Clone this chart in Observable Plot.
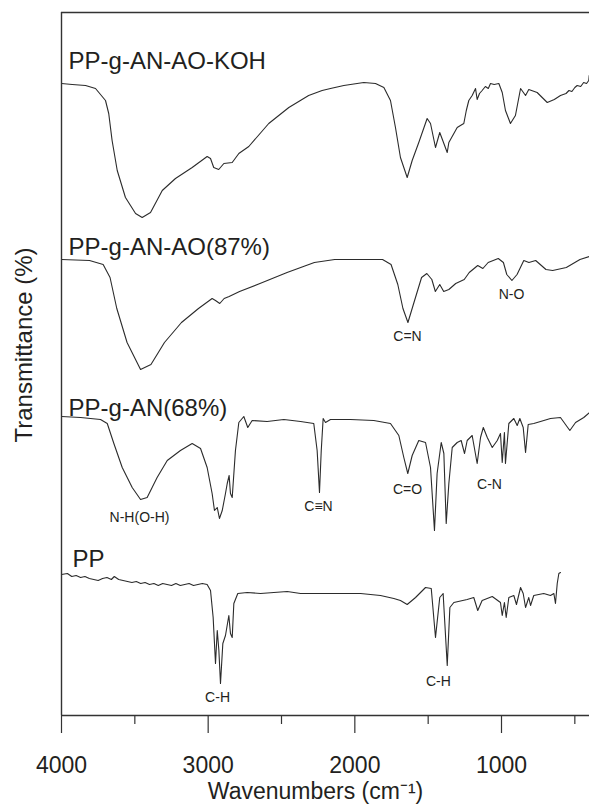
<!DOCTYPE html>
<html><head><meta charset="utf-8">
<script src="https://cdn.jsdelivr.net/npm/d3@7"></script>
<script src="https://cdn.jsdelivr.net/npm/@observablehq/plot@0.6"></script>
<style>body{margin:0;background:#fff}</style>
</head><body><div id="chart"></div>
<script>
// Wavenumber (cm-1) and transmittance (arbitrary, offset units) for each spectrum
const kohWn = [4000,3927,3836,3768,3700,3678,3655,3620,3564,3495,3450,3393,3313,3223,3109,3007,2984,2962,2928,2893,2836,2791,2723,2587,2450,2315,2223,2166,2075,1939,1859,1802,1757,1723,1689,1643,1609,1564,1507,1484,1450,1421,1370,1359,1302,1280,1257,1240,1223,1200,1177,1166,1150,1132,1110,1090,1075,1050,1018,995,973,939,905,870,836,814,757,688,640,598,560,540,520,500,484,460,440,420,405,402];
const kohT  = [632,631,630,627,615,602,575,545,518,502,498,503,525,537,548,559,557,548,546,552,553,562,569,592,608,620,625,627,630,633,632,628,615,588,558,538,555,573,597,592,568,583,563,573,588,590,592,605,615,620,627,616,622,625,629,627,632,631,632,623,605,592,600,627,620,626,623,613,616,620,622,625,624,628,630,629,633,632,635,640];

const aoWn = [4000,3809,3716,3669,3623,3553,3461,3390,3298,3182,3066,2973,2950,2921,2891,2857,2786,2647,2462,2276,2137,1951,1811,1753,1707,1672,1638,1603,1545,1509,1475,1451,1421,1394,1359,1312,1254,1220,1162,1127,1091,1022,987,964,929,894,848,813,767,697,651,558,465,400];
const aoT  = [456,455,451,438,407,373,346,351,373,393,407,417,415,412,417,419,424,432,443,453,456,456,456,451,431,407,393,410,438,442,436,424,431,424,426,432,436,443,450,447,453,457,453,441,435,441,455,453,455,446,445,448,456,459];

const anWn = [4000,3870,3734,3688,3643,3586,3518,3461,3416,3348,3279,3189,3109,3052,3007,2973,2957,2938,2923,2904,2882,2870,2857,2848,2836,2814,2791,2757,2730,2700,2598,2484,2370,2280,2257,2241,2229,2216,2200,2166,2030,1871,1757,1700,1666,1639,1609,1564,1518,1484,1457,1439,1411,1393,1377,1359,1336,1302,1275,1252,1234,1200,1166,1143,1124,1097,1063,1029,1007,995,980,973,950,916,893,875,852,836,818,780,734,666,598,534,495,439,400];
const anT  = [299,298,296,292,272,248,228,216,218,238,255,265,272,267,248,222,205,208,197,205,222,232,240,222,218,265,293,299,288,295,294,296,294,292,265,223,265,297,293,296,296,295,292,280,258,242,260,275,273,248,185,242,273,262,192,232,268,273,275,262,275,280,252,278,288,278,268,275,282,253,283,252,292,297,290,297,288,263,291,292,294,297,298,285,293,298,303];

const ppWn = [4000,3960,3930,3900,3870,3840,3810,3780,3750,3720,3690,3660,3640,3610,3580,3550,3520,3490,3460,3430,3400,3370,3340,3310,3280,3250,3220,3190,3160,3130,3100,3070,3040,3007,2984,2966,2950,2938,2927,2916,2900,2882,2859,2848,2836,2825,2798,2734,2643,2552,2461,2370,2234,2098,1961,1825,1734,1689,1643,1586,1518,1479,1450,1421,1398,1370,1352,1325,1234,1189,1162,1132,1063,1007,995,980,968,950,916,898,870,852,836,814,802,780,712,666,643,632,620,609,598];
const ppT  = [141,142,139,140,138,139,137,136,135,137,138,136,139,136,135,134,133,134,132,133,131,132,130,132,131,130,132,130,131,132,130,131,132,131,125,98,52,85,65,32,72,80,100,82,78,112,122,123,122,123,124,122,122,122,122,120,117,115,111,118,128,127,78,118,122,50,108,113,116,118,105,115,119,113,100,113,98,118,120,111,128,122,108,118,110,120,122,120,122,112,132,142,143];

const seriesNames = ["PP-g-AN-AO-KOH", "PP-g-AN-AO(87%)", "PP-g-AN(68%)", "PP"];
const seriesWn = [kohWn, aoWn, anWn, ppWn];
const seriesT = [kohT, aoT, anT, ppT];

// Sample name annotations (anchor wavenumber, transmittance)
const nameWn = [3952, 3952, 3952, 3925];
const nameT = [647, 461, 300, 149];

// Band assignment annotations
const bandText = ["C=N", "N-O", "N-H(O-H)", "C≡N", "C=O", "C-N", "C-H", "C-H"];
const bandWn = [1641, 932, 3468, 2248, 1641, 1082, 2936, 1430];
const bandT = [375, 417, 194, 205, 222, 227, 14, 30];

const majorTicks = [4000, 3000, 2000, 1000];
const minorTicks = [3500, 2500, 1500, 500];

const rows = seriesNames.flatMap((name, k) => seriesWn[k].map((w, i) => ({series: name, wn: w, t: seriesT[k][i]})));
const names = seriesNames.map((name, k) => ({name, wn: nameWn[k], t: nameT[k]}));
const bands = bandText.map((text, k) => ({text, wn: bandWn[k], t: bandT[k]}));

const ink = "#231f20";
const chart = Plot.plot({
  width: 589, height: 804,
  marginLeft: 61, marginRight: 0, marginTop: 12, marginBottom: 89,
  style: {fontFamily: "'Liberation Sans', Arial, sans-serif", color: ink, background: "#fff"},
  x: {domain: [4000, 400]},
  y: {domain: [0, 703], axis: null},
  marks: [
    Plot.line(rows, {x: "wn", y: "t", z: "series", stroke: "#2b2b2b", strokeWidth: 1.1}),
    Plot.ruleY([0, 703], {stroke: "#333", strokeWidth: 1.4}),
    Plot.ruleX([4000], {stroke: "#333", strokeWidth: 1.4}),
    Plot.axisX(majorTicks, {tickSize: 18, tickPadding: 23, fontSize: 23, label: null, tickFormat: d => String(d), stroke: "#333", strokeWidth: 1.2}),
    Plot.axisX(minorTicks, {tickSize: 9, tickFormat: () => "", label: null, stroke: "#333", strokeWidth: 1.2}),
    Plot.text(names, {x: "wn", y: "t", text: "name", textAnchor: "start", lineAnchor: "bottom", fontSize: 24, fill: ink}),
    Plot.text(bands, {x: "wn", y: "t", text: "text", textAnchor: "middle", lineAnchor: "bottom", fontSize: 14, fill: ink}),
    Plot.text(["Wavenumbers (cm⁻¹)"], {frameAnchor: "bottom", textAnchor: "middle", dx: -10, dy: 83, lineAnchor: "bottom", fontSize: 23, fill: ink}),
    Plot.text(["Transmittance (%)"], {frameAnchor: "left", textAnchor: "middle", lineAnchor: "middle", rotate: -90, dx: -37, dy: -19, fontSize: 24, fill: ink})
  ]
});
document.getElementById("chart").appendChild(chart);
</script>
</body></html>
